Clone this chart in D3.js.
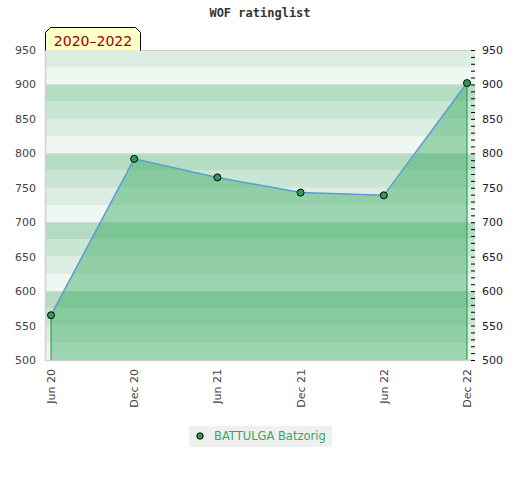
<!DOCTYPE html>
<html>
<head>
<meta charset="utf-8">
<script src="https://cdn.jsdelivr.net/npm/d3@7"></script>
<style>
  html, body { margin: 0; padding: 0; background: #fff; }
  svg { display: block; }
</style>
</head>
<body>
<div id="chart"></div>
<script>
// ── Dados ──
const periodos = ['Jun 20', 'Dec 20', 'Jun 21', 'Dec 21', 'Jun 22', 'Dec 22'];
const ratings = [565, 792, 765, 743, 739, 902];
const ticksY = [500, 550, 600, 650, 700, 750, 800, 850, 900, 950];
const jogador = 'BATTULGA Batzorig';
const titulo = 'WOF ratinglist';
const rotuloPeriodo = '2020\u20132022';

// ── Cores ──
const CORES = {
  faixas: ['#b3dcc2', '#c8e6d3', '#dcede2', '#eff7f2'], // a cada 25 pontos, ciclo de 100
  grade: '#d6d6d6',
  eixo: '#d0d0d0',
  area: 'rgb(58,169,95)',
  linha: '#5b9bd5',
  ponto: '#2e9e55',
  borda: '#3a9e5a',
  texto: '#444',
  legenda: '#3aa55f',
};

const W = 520, H = 480;
const plot = { x0: 45, x1: 475, y0: 50, y1: 360 };

const svg = d3.select('#chart').append('svg')
  .attr('width', W).attr('height', H);

const y = d3.scaleLinear().domain([500, 950]).range([plot.y1, plot.y0]);
const x = d3.scalePoint().domain(periodos).range([51, 467]);

// ── Faixas de fundo ──
const faixas = d3.range(500, 950, 25);
svg.append('g').selectAll('rect')
  .data(faixas)
  .enter().append('rect')
  .attr('x', plot.x0)
  .attr('width', plot.x1 - plot.x0)
  .attr('y', d => y(d + 25))
  .attr('height', d => y(d) - y(d + 25))
  .attr('fill', d => CORES.faixas[3 - ((d % 100) / 25)]);

// linhas de grade a cada 100
svg.append('g').selectAll('line')
  .data([600, 700, 800, 900])
  .enter().append('line')
  .attr('x1', plot.x0).attr('x2', plot.x1)
  .attr('y1', d => y(d) + 0.5).attr('y2', d => y(d) + 0.5)
  .attr('stroke', CORES.grade);

// ── Área ──
const dados = periodos.map((p, i) => ({ p, v: ratings[i] }));

svg.append('path')
  .datum(dados)
  .attr('d', d3.area().x(d => x(d.p)).y0(y(500)).y1(d => y(d.v)))
  .attr('fill', CORES.area)
  .attr('fill-opacity', 0.46);

// bordas verticais da área
[dados[0], dados[dados.length - 1]].forEach(d => {
  svg.append('line')
    .attr('x1', x(d.p)).attr('x2', x(d.p))
    .attr('y1', y(d.v)).attr('y2', y(500))
    .attr('stroke', CORES.borda).attr('stroke-width', 1.2);
});

svg.append('path')
  .datum(dados)
  .attr('d', d3.line().x(d => x(d.p)).y(d => y(d.v)))
  .attr('fill', 'none')
  .attr('stroke', CORES.linha)
  .attr('stroke-width', 1.5);

svg.append('g').selectAll('circle')
  .data(dados)
  .enter().append('circle')
  .attr('cx', d => x(d.p)).attr('cy', d => y(d.v))
  .attr('r', 3.5)
  .attr('fill', CORES.ponto)
  .attr('stroke', '#000')
  .attr('stroke-width', 1);

// ── Bordas do gráfico ──
svg.append('path')
  .attr('d', `M${plot.x0 + 0.5},${plot.y0}V${plot.y1 + 0.5}H${plot.x1}`)
  .attr('fill', 'none')
  .attr('stroke', CORES.eixo)
  .attr('stroke-width', 1.5);
svg.append('line')
  .attr('x1', plot.x0).attr('x2', plot.x1)
  .attr('y1', plot.y0 + 0.5).attr('y2', plot.y0 + 0.5)
  .attr('stroke', CORES.eixo);

// ── Eixo esquerdo ──
const fonte = "'DejaVu Sans', sans-serif";
const eixoEsq = svg.append('g')
  .attr('transform', `translate(${plot.x0 - 9},0)`)
  .call(d3.axisLeft(y).tickValues(ticksY).tickSize(0).tickPadding(0));
eixoEsq.select('.domain').remove();
eixoEsq.selectAll('text')
  .attr('fill', CORES.texto)
  .style('font-family', fonte)
  .style('font-size', '11px');

// ── Eixo direito ──
const eixoDirMenor = svg.append('g')
  .attr('transform', `translate(${plot.x1 - 4},0)`)
  .call(d3.axisRight(y).tickValues(d3.range(500, 951, 10)).tickSize(4).tickFormat(''));
eixoDirMenor.select('.domain').remove();
eixoDirMenor.selectAll('line').attr('stroke', '#000');

const eixoDir = svg.append('g')
  .attr('transform', `translate(${plot.x1 + 7},0)`)
  .call(d3.axisRight(y).tickValues(ticksY).tickSize(0).tickPadding(0));
eixoDir.select('.domain').remove();
eixoDir.selectAll('text')
  .attr('fill', '#222')
  .style('font-family', fonte)
  .style('font-size', '11px');

// ── Eixo X ──
svg.append('g').selectAll('text')
  .data(periodos)
  .enter().append('text')
  .attr('transform', d => `translate(${x(d) + 4},369) rotate(-90)`)
  .attr('text-anchor', 'end')
  .attr('fill', CORES.texto)
  .style('font-family', fonte)
  .style('font-size', '11px')
  .text(d => d);

// ── Título ──
svg.append('text')
  .attr('x', 260).attr('y', 17)
  .attr('text-anchor', 'middle')
  .attr('fill', '#333')
  .style('font-family', "'DejaVu Sans Mono', monospace")
  .style('font-size', '12px')
  .style('font-weight', 'bold')
  .text(titulo);

// ── Rótulo do período ──
const bx0 = 45.5, bx1 = 140.5, by0 = 27.5, by1 = 50.5, ch = 5;
svg.append('path')
  .attr('d', `M${bx0},${by1}V${by0 + ch}L${bx0 + ch},${by0}H${bx1 - ch}L${bx1},${by0 + ch}V${by1}`)
  .attr('fill', '#ffffc8')
  .attr('stroke', '#000')
  .attr('stroke-width', 1);
svg.append('text')
  .attr('x', 93).attr('y', 46)
  .attr('text-anchor', 'middle')
  .attr('fill', '#990000')
  .style('font-family', fonte)
  .style('font-size', '14px')
  .text(rotuloPeriodo);

// ── Legenda ──
const leg = svg.append('g');
leg.append('rect')
  .attr('x', 189).attr('y', 426)
  .attr('width', 143).attr('height', 21)
  .attr('fill', '#f0f0f0');
leg.append('circle')
  .attr('cx', 200).attr('cy', 436)
  .attr('r', 3.2)
  .attr('fill', CORES.ponto)
  .attr('stroke', '#000');
leg.append('text')
  .attr('x', 214).attr('y', 440)
  .attr('fill', CORES.legenda)
  .style('font-family', fonte)
  .style('font-size', '11.5px')
  .text(jogador);
</script>
</body>
</html>
